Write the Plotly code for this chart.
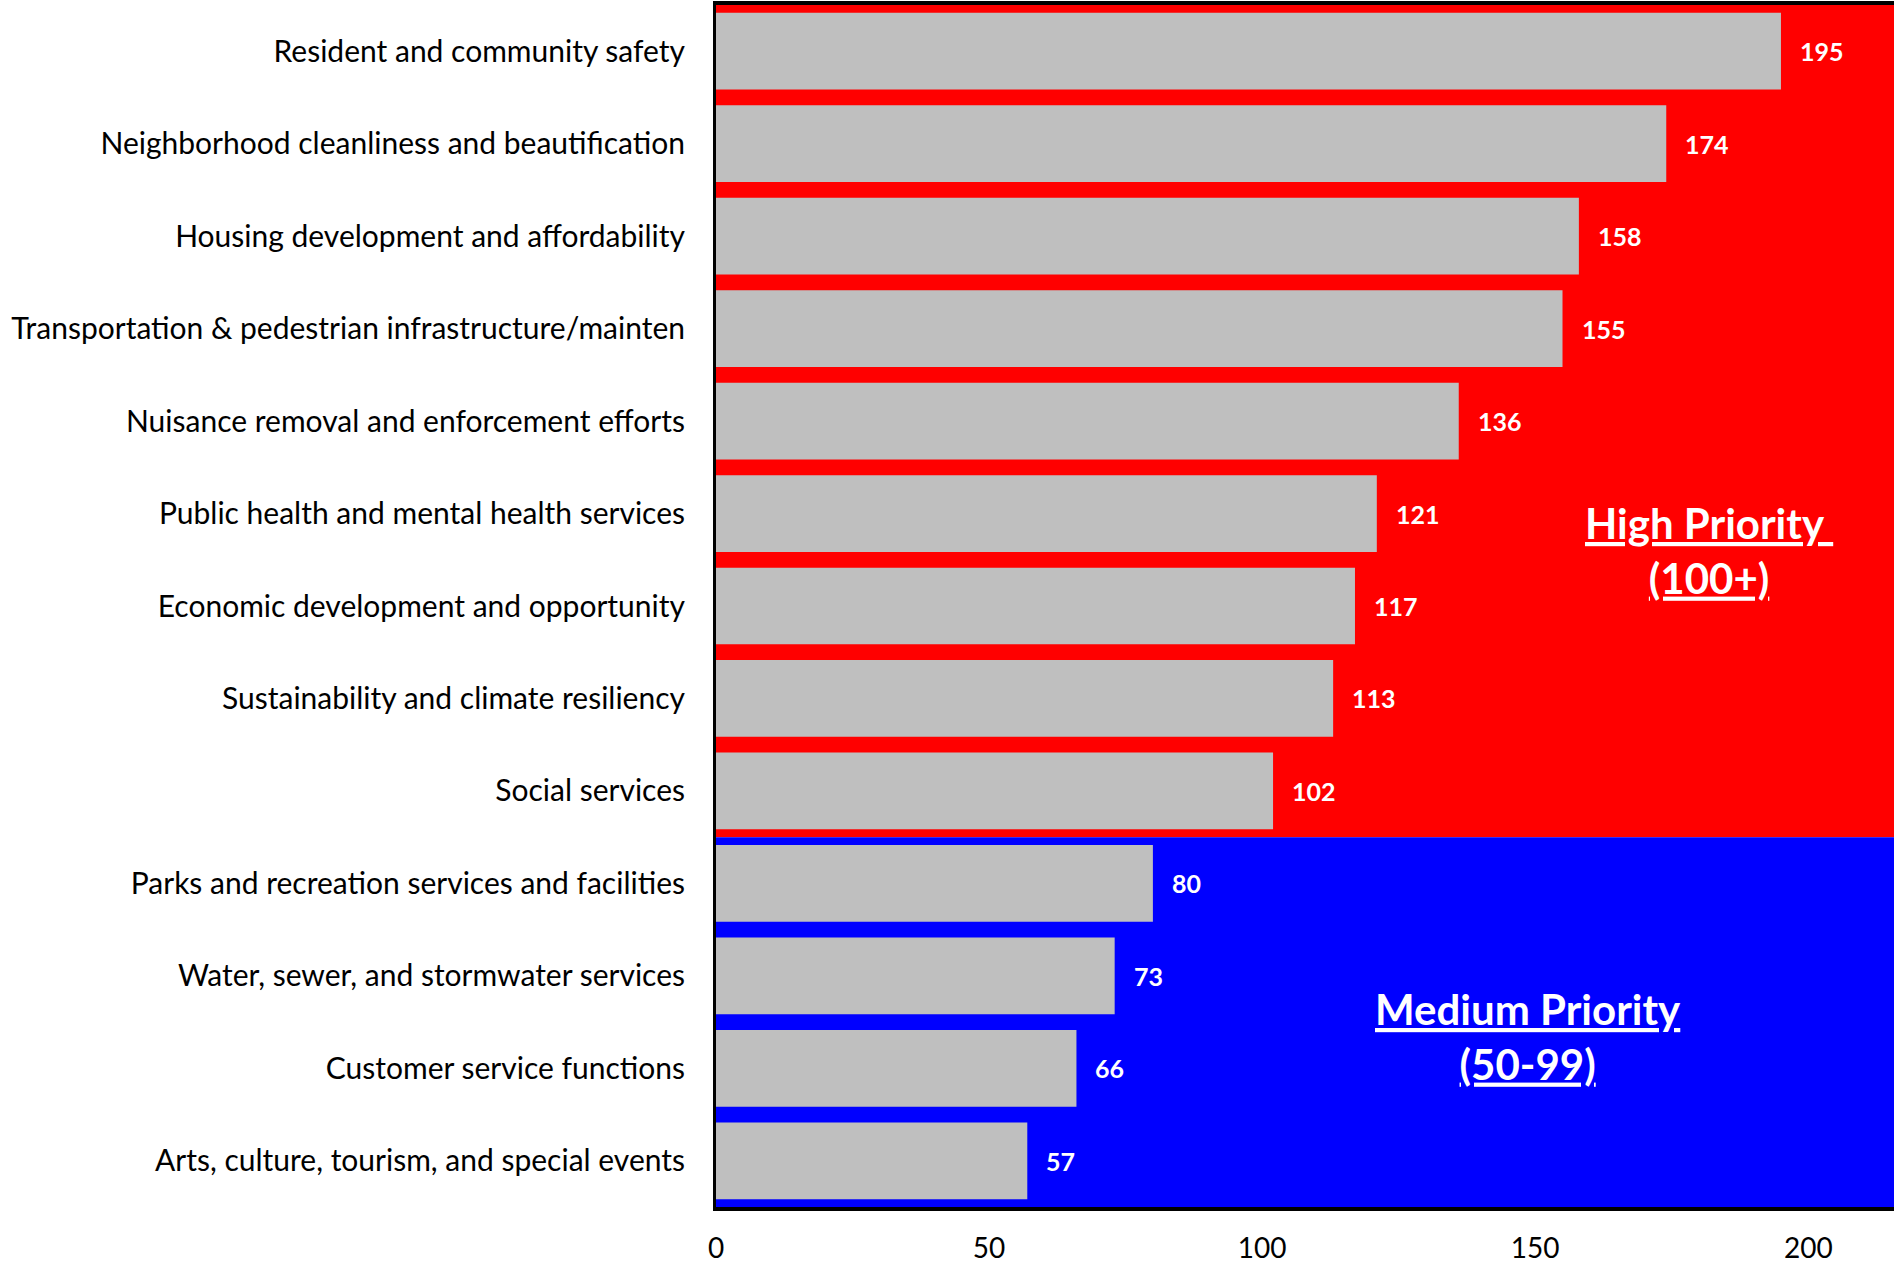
import plotly.graph_objects as go

categories = [
    "Resident and community safety",
    "Neighborhood cleanliness and beautification",
    "Housing development and affordability",
    "Transportation & pedestrian infrastructure/mainten",
    "Nuisance removal and enforcement efforts",
    "Public health and mental health services",
    "Economic development and opportunity",
    "Sustainability and climate resiliency",
    "Social services",
    "Parks and recreation services and facilities",
    "Water, sewer, and stormwater services",
    "Customer service functions",
    "Arts, culture, tourism, and special events",
]
values = [195, 174, 158, 155, 136, 121, 117, 113, 102, 80, 73, 66, 57]
x_ticks = [0, 50, 100, 150, 200]

FONT = "Lato"
XMAX = 215.7

fig = go.Figure()
fig.add_trace(go.Bar(
    y=categories, x=values, orientation="h",
    marker=dict(color="#BFBFBF", line=dict(width=0)),
    width=0.83, hoverinfo="skip",
))

# background bands
fig.add_shape(type="rect", xref="x", yref="y", x0=0, x1=XMAX, y0=-0.5, y1=8.5,
              fillcolor="#FF0000", line_width=0, layer="below")
fig.add_shape(type="rect", xref="x", yref="y", x0=0, x1=XMAX, y0=8.5, y1=12.5,
              fillcolor="#0000FF", line_width=0, layer="below")

for c, v in zip(categories, values):
    fig.add_annotation(x=v, y=c, text=f"<b>{v}</b>", showarrow=False,
                       xanchor="left", xshift=17,
                       font=dict(family=FONT, size=25, color="white"))

fig.add_annotation(x=181.9, y=5.4, text="<b><u>High Priority </u></b><br><b><u>(100+)</u></b>",
                   showarrow=False, font=dict(family=FONT, size=42, color="white"))
fig.add_annotation(x=148.7, y=10.66, text="<b><u>Medium Priority</u></b><br><b><u>(50-99)</u></b>",
                   showarrow=False, font=dict(family=FONT, size=42, color="white"))

fig.update_layout(
    width=1894, height=1264,
    margin=dict(l=716, r=0, t=5, b=57, autoexpand=False),
    paper_bgcolor="white", plot_bgcolor="white",
    showlegend=False, bargap=0.17,
    font=dict(family=FONT, color="black"),
)
fig.update_xaxes(range=[0, XMAX], tickvals=x_ticks, showgrid=False, zeroline=False,
                 showline=True, linecolor="black", linewidth=4, mirror=True,
                 ticks="", tickfont=dict(family=FONT, size=28, color="black"),
                 ticklabelstandoff=13, automargin=False)
fig.update_yaxes(autorange="reversed", showgrid=False, zeroline=False,
                 showline=True, linecolor="black", linewidth=3, ticks="",
                 tickfont=dict(family=FONT, size=30, color="black"),
                 ticklabelstandoff=22, automargin=False)

fig.write_html("out.html", config={"displayModeBar": False},
               post_script="document.body.style.margin='0';document.body.style.overflow='hidden';")
